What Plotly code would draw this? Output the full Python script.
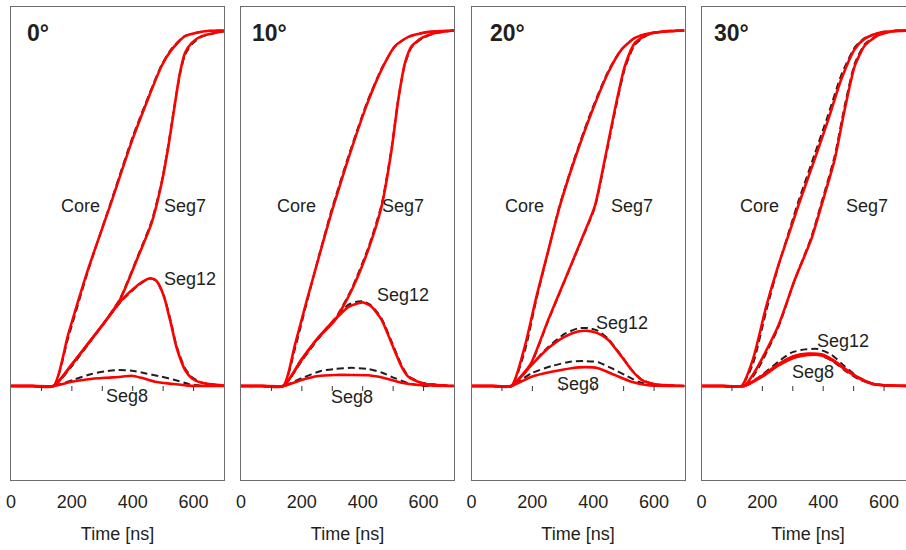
import plotly.graph_objects as go

# ---------------- data (time in ns, normalised amplitude) ----------------
panel_titles = ["0°", "10°", "20°", "30°"]
x_tick_vals = [0, 200, 400, 600]
zero_tick_vals = [100, 200, 300, 400, 500, 600]

# ---- 0 degrees ----
p0_core_t = [0, 70, 140, 188, 254, 325, 402, 495, 528, 572, 637, 700]
p0_core_red = [0, 0, 0, 0.145, 0.330, 0.505, 0.700, 0.900, 0.946, 0.984, 0.998, 1.0]
p0_core_blk = [0, 0, 0, 0.136, 0.326, 0.509, 0.706, 0.903, 0.949, 0.985, 0.998, 1.0]
p0_seg7_t = [0, 70, 140, 199, 254, 309, 358, 418, 462, 495, 517, 539, 555, 572, 594, 626, 700]
p0_seg7_red = [0, 0, 0, 0.060, 0.120, 0.181, 0.242, 0.364, 0.458, 0.570, 0.673, 0.795, 0.880, 0.937, 0.965, 0.984, 0.998]
p0_seg7_blk = [0, 0, 0, 0.056, 0.118, 0.182, 0.245, 0.368, 0.463, 0.574, 0.678, 0.798, 0.876, 0.932, 0.961, 0.982, 0.998]
p0_seg12_t = [0, 70, 140, 199, 254, 309, 364, 418, 440, 457, 473, 484, 495, 506, 517, 528, 539, 550, 572, 594, 626, 700]
p0_seg12_red = [0, 0, 0, 0.059, 0.120, 0.181, 0.242, 0.285, 0.297, 0.303, 0.299, 0.289, 0.269, 0.242, 0.205, 0.167, 0.125, 0.092, 0.045, 0.022, 0.009, 0.001]
p0_seg12_blk = [0, 0, 0, 0.055, 0.118, 0.180, 0.240, 0.283, 0.296, 0.302, 0.298, 0.287, 0.268, 0.245, 0.210, 0.172, 0.130, 0.097, 0.050, 0.025, 0.010, 0.001]
p0_seg8_t = [0, 70, 140, 199, 254, 309, 364, 397, 429, 473, 528, 583, 700]
p0_seg8_red = [0, 0, 0, 0.012, 0.019, 0.023, 0.026, 0.029, 0.023, 0.012, 0.006, 0.001, 0]
p0_seg8b_t = [0, 70, 140, 210, 265, 309, 352, 397, 440, 495, 539, 583, 637, 700]
p0_seg8_blk = [0, 0, 0, 0.019, 0.034, 0.041, 0.045, 0.043, 0.036, 0.026, 0.017, 0.006, 0, 0]

# ---- 10 degrees ----
p1_core_t = [0, 70, 139, 177, 216, 260, 298, 353, 413, 462, 506, 550, 616, 700]
p1_core_red = [0, 0, 0, 0.115, 0.240, 0.375, 0.490, 0.640, 0.790, 0.890, 0.956, 0.982, 0.996, 1.0]
p1_core_blk = [0, 0, 0, 0.104, 0.234, 0.378, 0.496, 0.646, 0.795, 0.893, 0.955, 0.982, 0.996, 1.0]
p1_seg7_t = [0, 70, 139, 199, 254, 309, 364, 418, 462, 495, 517, 539, 561, 594, 637, 700]
p1_seg7_red = [0, 0, 0, 0.073, 0.136, 0.185, 0.270, 0.383, 0.505, 0.665, 0.806, 0.909, 0.956, 0.979, 0.993, 1.0]
p1_seg7_blk = [0, 0, 0, 0.070, 0.133, 0.188, 0.274, 0.388, 0.510, 0.670, 0.809, 0.906, 0.953, 0.977, 0.992, 1.0]
p1_seg12_t = [0, 70, 139, 199, 254, 309, 352, 385, 402, 429, 462, 495, 528, 550, 594, 700]
p1_seg12_red = [0, 0, 0, 0.075, 0.136, 0.187, 0.222, 0.233, 0.235, 0.223, 0.186, 0.120, 0.054, 0.026, 0.008, 0]
p1_seg12_blk = [0, 0, 0, 0.072, 0.134, 0.190, 0.228, 0.238, 0.238, 0.226, 0.190, 0.125, 0.058, 0.028, 0.009, 0]
p1_seg8_t = [0, 70, 139, 199, 254, 309, 364, 418, 473, 528, 583, 700]
p1_seg8_red = [0, 0, 0, 0.017, 0.028, 0.031, 0.031, 0.030, 0.022, 0.009, 0.003, 0]
p1_seg8b_t = [0, 70, 139, 199, 265, 309, 364, 418, 462, 506, 550, 594, 700]
p1_seg8_blk = [0, 0, 0, 0.022, 0.043, 0.048, 0.051, 0.048, 0.038, 0.022, 0.008, 0.001, 0]

# ---- 20 degrees ----
p2_core_t = [0, 70, 131, 175, 213, 252, 290, 339, 394, 449, 493, 537, 591, 700]
p2_core_red = [0, 0, 0, 0.111, 0.250, 0.380, 0.505, 0.637, 0.768, 0.881, 0.946, 0.979, 0.993, 1.0]
p2_core_blk = [0, 0, 0, 0.098, 0.243, 0.379, 0.509, 0.642, 0.774, 0.885, 0.947, 0.979, 0.993, 1.0]
p2_seg7_t = [0, 70, 131, 175, 197, 252, 307, 361, 405, 438, 471, 504, 537, 580, 635, 700]
p2_seg7_red = [0, 0, 0, 0.040, 0.066, 0.186, 0.299, 0.411, 0.505, 0.637, 0.777, 0.900, 0.965, 0.989, 0.998, 1.0]
p2_seg7_blk = [0, 0, 0, 0.037, 0.063, 0.183, 0.297, 0.409, 0.501, 0.631, 0.769, 0.893, 0.960, 0.988, 0.998, 1.0]
p2_seg12_t = [0, 70, 131, 197, 252, 307, 350, 383, 416, 449, 493, 526, 559, 603, 700]
p2_seg12_red = [0, 0, 0, 0.059, 0.106, 0.139, 0.153, 0.155, 0.148, 0.130, 0.083, 0.045, 0.017, 0.005, 0]
p2_seg12_blk = [0, 0, 0, 0.060, 0.110, 0.147, 0.162, 0.163, 0.155, 0.133, 0.085, 0.046, 0.018, 0.005, 0]
p2_seg8_t = [0, 70, 131, 197, 263, 329, 372, 416, 471, 526, 580, 700]
p2_seg8_red = [0, 0, 0, 0.026, 0.040, 0.050, 0.053, 0.050, 0.031, 0.012, 0.002, 0]
p2_seg8b_t = [0, 70, 131, 197, 263, 329, 372, 416, 460, 504, 548, 591, 700]
p2_seg8_blk = [0, 0, 0, 0.036, 0.056, 0.069, 0.070, 0.067, 0.050, 0.031, 0.012, 0.003, 0]

# ---- 30 degrees ----
p3_core_t = [0, 70, 131, 169, 213, 252, 296, 318, 372, 416, 460, 504, 537, 591, 700]
p3_core_red = [0, 0, 0, 0.075, 0.225, 0.338, 0.450, 0.507, 0.638, 0.748, 0.864, 0.948, 0.977, 0.995, 1.0]
p3_core_blk = [0, 0, 0, 0.062, 0.212, 0.336, 0.458, 0.518, 0.652, 0.762, 0.876, 0.953, 0.979, 0.995, 1.0]
p3_seg7_t = [0, 70, 140, 180, 252, 307, 361, 394, 438, 471, 504, 537, 580, 635, 700]
p3_seg7_red = [0, 0, 0, 0.047, 0.169, 0.300, 0.413, 0.507, 0.638, 0.779, 0.901, 0.958, 0.986, 0.999, 1.0]
p3_seg7_blk = [0, 0, 0, 0.040, 0.164, 0.300, 0.419, 0.515, 0.648, 0.790, 0.908, 0.962, 0.987, 0.999, 1.0]
p3_seg12_t = [0, 70, 140, 197, 252, 307, 350, 394, 438, 482, 526, 569, 700]
p3_seg12_red = [0, 0, 0, 0.028, 0.061, 0.085, 0.091, 0.089, 0.070, 0.042, 0.019, 0.005, 0]
p3_seg8_red = [0, 0, 0, 0.025, 0.057, 0.080, 0.087, 0.086, 0.068, 0.040, 0.018, 0.004, 0]
p3_seg12b_t = [0, 70, 140, 197, 252, 296, 340, 383, 427, 471, 515, 559, 603, 700]
p3_seg12_blk = [0, 0, 0, 0.030, 0.068, 0.094, 0.103, 0.104, 0.088, 0.055, 0.025, 0.008, 0.002, 0]
p3_seg8_blk = [0, 0, 0, 0.026, 0.060, 0.082, 0.089, 0.088, 0.072, 0.044, 0.020, 0.006, 0.001, 0]

# curve labels: (text, time, amplitude)
p0_labels = [("Core", 230, 0.507), ("Seg7", 572, 0.507), ("Seg12", 588, 0.301), ("Seg8", 381, -0.027)]
p1_labels = [("Core", 183, 0.507), ("Seg7", 533, 0.507), ("Seg12", 531, 0.256), ("Seg8", 365, -0.031)]
p2_labels = [("Core", 175, 0.507), ("Seg7", 529, 0.507), ("Seg12", 496, 0.177), ("Seg8", 350, 0.006)]
p3_labels = [("Core", 192, 0.507), ("Seg7", 544, 0.507), ("Seg12", 465, 0.127), ("Seg8", 367, 0.038)]
title_pos = [(46, 0.994), (30, 0.994), (54, 0.994), (34, 0.994)]

panels = [
    dict(red=[(p0_core_t, p0_core_red), (p0_seg7_t, p0_seg7_red), (p0_seg12_t, p0_seg12_red), (p0_seg8_t, p0_seg8_red)],
         blk=[(p0_core_t, p0_core_blk), (p0_seg7_t, p0_seg7_blk), (p0_seg12_t, p0_seg12_blk), (p0_seg8b_t, p0_seg8_blk)],
         labels=p0_labels),
    dict(red=[(p1_core_t, p1_core_red), (p1_seg7_t, p1_seg7_red), (p1_seg12_t, p1_seg12_red), (p1_seg8_t, p1_seg8_red)],
         blk=[(p1_core_t, p1_core_blk), (p1_seg7_t, p1_seg7_blk), (p1_seg12_t, p1_seg12_blk), (p1_seg8b_t, p1_seg8_blk)],
         labels=p1_labels),
    dict(red=[(p2_core_t, p2_core_red), (p2_seg7_t, p2_seg7_red), (p2_seg12_t, p2_seg12_red), (p2_seg8_t, p2_seg8_red)],
         blk=[(p2_core_t, p2_core_blk), (p2_seg7_t, p2_seg7_blk), (p2_seg12_t, p2_seg12_blk), (p2_seg8b_t, p2_seg8_blk)],
         labels=p2_labels),
    dict(red=[(p3_core_t, p3_core_red), (p3_seg7_t, p3_seg7_red), (p3_seg12_t, p3_seg12_red), (p3_seg12_t, p3_seg8_red)],
         blk=[(p3_core_t, p3_core_blk), (p3_seg7_t, p3_seg7_blk), (p3_seg12b_t, p3_seg12_blk), (p3_seg12b_t, p3_seg8_blk)],
         labels=p3_labels),
]

# ---------------- layout geometry ----------------
FIG_W, FIG_H = 920, 550
panel_left_px = [11, 241, 471.5, 701.5]
panel_w_px = 213
frame_top_px, frame_bot_px = 7, 480
y_range = [-0.2644, 1.066]

TEXT = "#231f20"
FRAME = "#6d6d6d"
FONT = "Liberation Sans, Arial, sans-serif"

fig = go.Figure()

for i, p in enumerate(panels):
    n = "" if i == 0 else str(i + 1)
    xa, ya = "x" + n, "y" + n
    for t, v in p["blk"]:
        fig.add_trace(go.Scatter(x=t, y=v, mode="lines", xaxis=xa, yaxis=ya, showlegend=False,
                                 line=dict(color="#1e1e1e", width=2, dash="7px,4px", shape="spline", smoothing=0.6),
                                 hoverinfo="skip"))
    for t, v in p["red"]:
        fig.add_trace(go.Scatter(x=t, y=v, mode="lines", xaxis=xa, yaxis=ya, showlegend=False,
                                 line=dict(color="#ff0000", width=2.6, shape="spline", smoothing=0.6),
                                 hoverinfo="skip"))
    for txt, tx, ty in p["labels"]:
        fig.add_annotation(x=tx, y=ty, xref=xa, yref=ya, text=txt, showarrow=False,
                           font=dict(size=18, color=TEXT, family=FONT), xanchor="center", yanchor="middle")
    tx, ty = title_pos[i]
    fig.add_annotation(x=tx, y=ty, xref=xa, yref=ya, text="<b>" + panel_titles[i] + "</b>", showarrow=False,
                       font=dict(size=23, color=TEXT, family=FONT), xanchor="left", yanchor="middle")
    for tv in zero_tick_vals:
        fig.add_shape(type="line", xref=xa, yref=ya, x0=tv, x1=tv, ysizemode="pixel", yanchor=0,
                      y0=0, y1=-5, line=dict(color="#333333", width=1))

    x0 = panel_left_px[i] / FIG_W
    x1 = (panel_left_px[i] + panel_w_px) / FIG_W
    fig.layout["xaxis" + n] = dict(
        domain=[x0, x1], range=[0, 700], anchor=ya, showgrid=False, zeroline=False, automargin=False,
        showline=True, mirror=True, linecolor=FRAME, linewidth=1,
        tickvals=x_tick_vals, ticks="outside", ticklen=5, tickcolor="rgba(0,0,0,0)",
        tickfont=dict(size=18, color=TEXT, family=FONT),
        title=dict(text="Time [ns]", font=dict(size=18, color=TEXT, family=FONT), standoff=16),
    )
    fig.layout["yaxis" + n] = dict(
        domain=[(FIG_H - frame_bot_px) / FIG_H, (FIG_H - frame_top_px) / FIG_H],
        range=y_range, anchor=xa, showgrid=False, zeroline=False, showticklabels=False, ticks="",
        automargin=False, showline=True, mirror=True, linecolor=FRAME, linewidth=1,
    )

fig.update_layout(
    template="none",
    width=FIG_W, height=FIG_H,
    margin=dict(l=0, r=0, t=0, b=0, pad=0),
    paper_bgcolor="white", plot_bgcolor="white",
    font=dict(family=FONT, color=TEXT),
)

fig.write_html("out.html", config={"displayModeBar": False},
               post_script="document.body.style.margin='0';document.body.style.overflow='hidden';")
